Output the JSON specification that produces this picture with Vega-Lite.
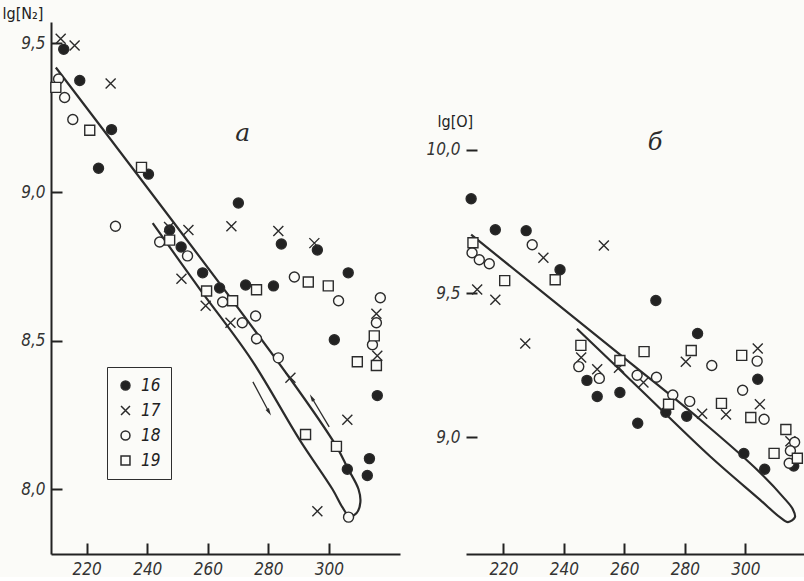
{
  "$schema": "https://vega.github.io/schema/vega-lite/v6.json",
  "autosize": {"type": "pad"},
  "padding": {"left": 2, "top": 5, "right": 0, "bottom": 0},
  "background": "#fbfbf8",
  "spacing": 66,
  "bounds": "flush",
  "config": {
    "view": {"stroke": null},
    "axis": {
      "domainColor": "#222222", "domainWidth": 2,
      "tickColor": "#222222", "tickWidth": 2, "tickSize": -11, "ticks": true,
      "labelPadding": 17, "grid": false,
      "labelFont": "DejaVu Sans Condensed, DejaVu Sans", "labelFontStyle": "italic", "labelFontSize": 17, "labelColor": "#333333",
      "labelOverlap": false, "labelFlush": false,
      "titleFont": "DejaVu Sans Condensed, DejaVu Sans", "titleFontWeight": "normal", "titleFontSize": 16, "titleColor": "#222222"
    }
  },
  "datasets": {
    "pa": [
      {"s":"16","x":212.4,"y":9.48},{"s":"16","x":217.7,"y":9.375},{"s":"16","x":228.2,"y":9.21},{"s":"16","x":223.9,"y":9.08},{"s":"16","x":240.4,"y":9.06},{"s":"16","x":270.1,"y":8.963},{"s":"16","x":247.4,"y":8.872},{"s":"16","x":251.2,"y":8.815},{"s":"16","x":258.3,"y":8.728},{"s":"16","x":263.9,"y":8.677},{"s":"16","x":272.5,"y":8.687},{"s":"16","x":281.7,"y":8.684},{"s":"16","x":284.3,"y":8.825},{"s":"16","x":296.2,"y":8.805},{"s":"16","x":306.4,"y":8.728},{"s":"16","x":301.8,"y":8.503},{"s":"16","x":316.0,"y":8.315},{"s":"16","x":306.1,"y":8.067},{"s":"16","x":313.4,"y":8.103},{"s":"16","x":312.7,"y":8.046},
      {"s":"17","x":211.4,"y":9.516},{"s":"17","x":216.0,"y":9.493},{"s":"17","x":227.9,"y":9.365},{"s":"17","x":247.2,"y":8.882},{"s":"17","x":253.6,"y":8.872},{"s":"17","x":251.3,"y":8.708},{"s":"17","x":267.8,"y":8.885},{"s":"17","x":283.3,"y":8.869},{"s":"17","x":295.2,"y":8.828},{"s":"17","x":259.3,"y":8.617},{"s":"17","x":267.5,"y":8.56},{"s":"17","x":287.3,"y":8.375},{"s":"17","x":306.1,"y":8.234},{"s":"17","x":296.2,"y":7.926},{"s":"17","x":315.7,"y":8.59},{"s":"17","x":316.0,"y":8.449},
      {"s":"18","x":210.7,"y":9.38},{"s":"18","x":212.7,"y":9.318},{"s":"18","x":215.4,"y":9.244},{"s":"18","x":229.5,"y":8.885},{"s":"18","x":244.1,"y":8.832},{"s":"18","x":253.3,"y":8.785},{"s":"18","x":264.9,"y":8.63},{"s":"18","x":271.4,"y":8.56},{"s":"18","x":275.8,"y":8.583},{"s":"18","x":276.1,"y":8.506},{"s":"18","x":288.6,"y":8.714},{"s":"18","x":303.2,"y":8.634},{"s":"18","x":283.3,"y":8.442},{"s":"18","x":317.0,"y":8.644},{"s":"18","x":315.7,"y":8.56},{"s":"18","x":314.4,"y":8.486},{"s":"18","x":306.5,"y":7.906},
      {"s":"19","x":209.8,"y":9.352},{"s":"19","x":221.0,"y":9.208},{"s":"19","x":238.1,"y":9.083},{"s":"19","x":247.4,"y":8.838},{"s":"19","x":259.6,"y":8.667},{"s":"19","x":268.2,"y":8.634},{"s":"19","x":276.1,"y":8.671},{"s":"19","x":293.2,"y":8.697},{"s":"19","x":299.8,"y":8.684},{"s":"19","x":309.4,"y":8.429},{"s":"19","x":315.0,"y":8.516},{"s":"19","x":315.7,"y":8.416},{"s":"19","x":292.3,"y":8.184},{"s":"19","x":302.5,"y":8.144}
    ],
    "pb": [
      {"s":"16","x":209.3,"y":9.829},{"s":"16","x":217.3,"y":9.721},{"s":"16","x":227.5,"y":9.718},{"s":"16","x":238.7,"y":9.582},{"s":"16","x":270.4,"y":9.475},{"s":"16","x":284.2,"y":9.36},{"s":"16","x":247.6,"y":9.197},{"s":"16","x":251.0,"y":9.141},{"s":"16","x":258.5,"y":9.155},{"s":"16","x":264.4,"y":9.048},{"s":"16","x":273.7,"y":9.086},{"s":"16","x":280.6,"y":9.072},{"s":"16","x":304.1,"y":9.201},{"s":"16","x":299.5,"y":8.943},{"s":"16","x":306.4,"y":8.888},{"s":"16","x":316.0,"y":8.899},
      {"s":"17","x":211.3,"y":9.513},{"s":"17","x":217.3,"y":9.478},{"s":"17","x":233.2,"y":9.624},{"s":"17","x":253.2,"y":9.666},{"s":"17","x":227.2,"y":9.325},{"s":"17","x":245.7,"y":9.277},{"s":"17","x":251.0,"y":9.236},{"s":"17","x":258.2,"y":9.241},{"s":"17","x":266.3,"y":9.19},{"s":"17","x":280.3,"y":9.262},{"s":"17","x":285.7,"y":9.081},{"s":"17","x":293.6,"y":9.078},{"s":"17","x":304.1,"y":9.308},{"s":"17","x":304.8,"y":9.114},{"s":"17","x":314.9,"y":8.985},
      {"s":"18","x":209.6,"y":9.641},{"s":"18","x":212.0,"y":9.617},{"s":"18","x":215.3,"y":9.603},{"s":"18","x":229.5,"y":9.669},{"s":"18","x":244.9,"y":9.245},{"s":"18","x":251.7,"y":9.204},{"s":"18","x":264.2,"y":9.215},{"s":"18","x":270.6,"y":9.208},{"s":"18","x":276.0,"y":9.146},{"s":"18","x":281.6,"y":9.124},{"s":"18","x":288.9,"y":9.249},{"s":"18","x":299.1,"y":9.163},{"s":"18","x":303.9,"y":9.264},{"s":"18","x":306.2,"y":9.062},{"s":"18","x":316.3,"y":8.982},{"s":"18","x":314.9,"y":8.952},{"s":"18","x":314.5,"y":8.909},
      {"s":"19","x":209.9,"y":9.676},{"s":"19","x":220.4,"y":9.544},{"s":"19","x":237.1,"y":9.547},{"s":"19","x":245.6,"y":9.319},{"s":"19","x":258.5,"y":9.266},{"s":"19","x":266.5,"y":9.297},{"s":"19","x":274.6,"y":9.114},{"s":"19","x":282.1,"y":9.301},{"s":"19","x":298.8,"y":9.284},{"s":"19","x":292.1,"y":9.117},{"s":"19","x":301.8,"y":9.068},{"s":"19","x":313.4,"y":9.026},{"s":"19","x":309.5,"y":8.943},{"s":"19","x":317.2,"y":8.926}
    ],
    "ca": [
      {"i":1,"x":241.8,"y":8.895},{"i":2,"x":257.3,"y":8.674},{"i":3,"x":274.4,"y":8.436},{"i":4,"x":290.3,"y":8.167},{"i":5,"x":301.2,"y":8.0},{"i":6,"x":304.5,"y":7.939},{"i":7,"x":306.8,"y":7.909},{"i":8,"x":309.1,"y":7.919},{"i":9,"x":310.4,"y":7.956},{"i":10,"x":309.8,"y":8.0},{"i":11,"x":306.1,"y":8.073},{"i":12,"x":302.5,"y":8.144},{"i":13,"x":287.0,"y":8.375},{"i":14,"x":209.8,"y":9.419}
    ],
    "cb": [
      {"i":1,"x":244.3,"y":9.377},{"i":2,"x":265.2,"y":9.166},{"i":3,"x":288.3,"y":8.933},{"i":4,"x":304.8,"y":8.782},{"i":5,"x":311.4,"y":8.721},{"i":6,"x":314.1,"y":8.704},{"i":7,"x":316.4,"y":8.721},{"i":8,"x":315.7,"y":8.749},{"i":9,"x":313.1,"y":8.784},{"i":10,"x":304.8,"y":8.877},{"i":11,"x":285.0,"y":9.061},{"i":12,"x":260.5,"y":9.27},{"i":13,"x":209.3,"y":9.704}
    ],
    "arrows": [
      {"dir":"down","x":274.9,"y":8.361,"x2":280.2,"y2":8.26},
      {"dir":"up","x":300.1,"y":8.21,"x2":294.4,"y2":8.307}
    ],
    "labA": [{"x":271.5,"y":9.198,"t":"a"}],
    "labB": [{"x":270.1,"y":10.023,"t":"б"}]
  },
  "resolve": {
    "scale": {"x": "independent", "y": "independent", "shape": "independent", "fill": "independent"},
    "legend": {"shape": "independent", "fill": "independent"}
  },
  "hconcat": [
    {
      "width": 349, "height": 532,
      "encoding": {
        "x": {"field": "x", "type": "quantitative", "scale": {"domain": [208.2, 323.5], "nice": false, "zero": false},
              "axis": {"values": [220, 240, 260, 280, 300], "title": null, "labelBaseline": "top", "labelPadding": 18}},
        "y": {"field": "y", "type": "quantitative", "scale": {"domain": [7.782, 9.572], "nice": false, "zero": false},
              "axis": {"values": [8, 8.5, 9, 9.5], "labelExpr": "replace(format(datum.value,'.1f'),'.',',')",
                       "title": "lg[N₂]", "titleAngle": 0, "titleAlign": "left", "titleBaseline": "top", "titleX": -49, "titleY": -17}}
      },
      "layer": [
        {"data": {"name": "ca"}, "mark": {"type": "line", "interpolate": "catmull-rom", "stroke": "#2b2b2b", "strokeWidth": 2.2},
         "encoding": {"order": {"field": "i", "type": "quantitative"}}},
        {"data": {"name": "arrows"}, "mark": {"type": "rule", "stroke": "#2b2b2b", "strokeWidth": 1.3},
         "encoding": {"x2": {"field": "x2"}, "y2": {"field": "y2"}}},
        {"data": {"name": "arrows"}, "transform": [{"filter": "datum.dir == 'down'"}],
         "mark": {"type": "point", "shape": "M0,-1L0.45,0.8L-0.45,0.8Z", "angle": 150, "size": 70, "filled": true, "fill": "#2b2b2b", "opacity": 1, "strokeWidth": 0},
         "encoding": {"x": {"field": "x2", "type": "quantitative"}, "y": {"field": "y2", "type": "quantitative"}}},
        {"data": {"name": "arrows"}, "transform": [{"filter": "datum.dir == 'up'"}],
         "mark": {"type": "point", "shape": "M0,-1L0.45,0.8L-0.45,0.8Z", "angle": 330, "size": 70, "filled": true, "fill": "#2b2b2b", "opacity": 1, "strokeWidth": 0},
         "encoding": {"x": {"field": "x2", "type": "quantitative"}, "y": {"field": "y2", "type": "quantitative"}}},
        {"data": {"name": "pa"}, "mark": {"type": "point", "stroke": "#2b2b2b", "strokeWidth": 1.4, "size": 100, "opacity": 1, "fillOpacity": 1},
         "encoding": {
           "shape": {"field": "s", "type": "nominal", "scale": {"domain": ["16","17","18","19"], "range": ["circle", "M-1,-1L1,1M-1,1L1,-1", "circle", "square"]},
                     "legend": {"orient": "none", "legendX": 56, "legendY": 345, "title": null, "strokeColor": "#2e2e2e", "padding": 10, "rowPadding": 7,
                                "labelFont": "DejaVu Sans Condensed, DejaVu Sans", "labelFontStyle": "italic", "labelFontSize": 17, "labelColor": "#222222",
                                "symbolSize": 80, "labelOffset": 7,
                                "encode": {"symbols": {"update": {"stroke": {"value": "#2b2b2b"}, "strokeWidth": {"value": 1.3},
                                                                  "fill": {"signal": "datum.value == '16' ? '#222222' : '#fbfbf8'"}, "opacity": {"value": 1}}}}}},
           "fill": {"field": "s", "type": "nominal", "scale": {"domain": ["16","17","18","19"], "range": ["#222222", "#fbfbf8", "#fbfbf8", "#fbfbf8"]}, "legend": null}
         }},
        {"data": {"name": "labA"}, "mark": {"type": "text", "font": "DejaVu Serif", "fontStyle": "italic", "fontSize": 25, "fill": "#2b2b2b"},
         "encoding": {"text": {"field": "t"}}}
      ]
    },
    {
      "width": 338, "height": 532,
      "encoding": {
        "x": {"field": "x", "type": "quantitative", "scale": {"domain": [207.6, 319.4], "nice": false, "zero": false},
              "axis": {"values": [220, 240, 260, 280, 300], "title": null, "labelBaseline": "top", "labelPadding": 18}},
        "y": {"field": "y", "type": "quantitative", "scale": {"domain": [8.593, 10.444], "nice": false, "zero": false},
              "axis": {"values": [9, 9.5, 10], "domain": false, "labelExpr": "replace(format(datum.value,'.1f'),'.',',')",
                       "title": "lg[O]", "titleAngle": 0, "titleAlign": "left", "titleBaseline": "top", "titleX": -29, "titleY": 91}}
      },
      "layer": [
        {"data": {"values": [{}]}, "mark": {"type": "rule", "stroke": "#222222", "strokeWidth": 2},
         "encoding": {"x": {"datum": 207.6, "type": "quantitative"}, "y": {"datum": 8.593, "type": "quantitative"}, "y2": {"datum": 10.058}}},
        {"data": {"name": "cb"}, "mark": {"type": "line", "interpolate": "catmull-rom", "stroke": "#2b2b2b", "strokeWidth": 2.2},
         "encoding": {"order": {"field": "i", "type": "quantitative"}}},
        {"data": {"name": "pb"}, "mark": {"type": "point", "stroke": "#2b2b2b", "strokeWidth": 1.4, "size": 100, "opacity": 1, "fillOpacity": 1},
         "encoding": {
           "shape": {"field": "s", "type": "nominal", "scale": {"domain": ["16","17","18","19"], "range": ["circle", "M-1,-1L1,1M-1,1L1,-1", "circle", "square"]}, "legend": null},
           "fill": {"field": "s", "type": "nominal", "scale": {"domain": ["16","17","18","19"], "range": ["#222222", "#fbfbf8", "#fbfbf8", "#fbfbf8"]}, "legend": null}
         }},
        {"data": {"name": "labB"}, "mark": {"type": "text", "font": "DejaVu Serif", "fontStyle": "italic", "fontSize": 24, "fill": "#2b2b2b"},
         "encoding": {"text": {"field": "t"}}}
      ]
    }
  ]
}
